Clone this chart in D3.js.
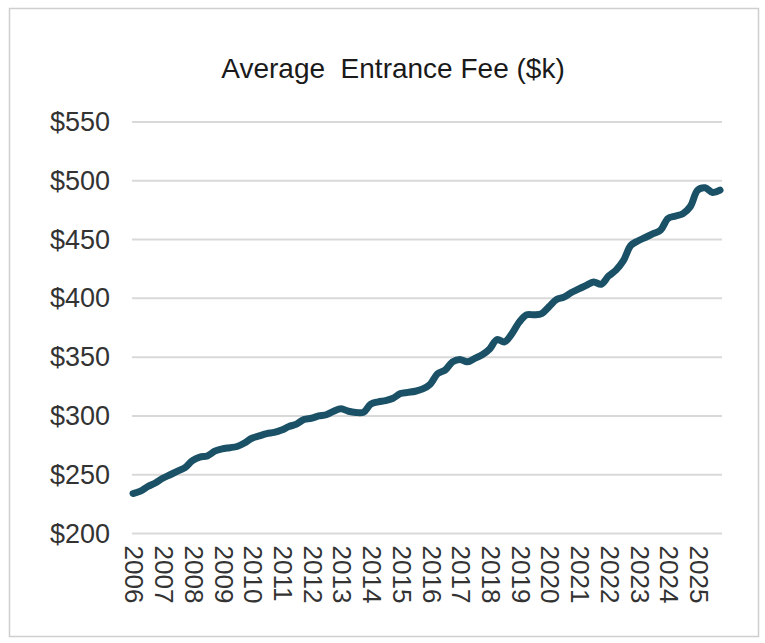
<!DOCTYPE html>
<html>
<head>
<meta charset="utf-8">
<script src="https://cdn.jsdelivr.net/npm/d3@7"></script>
<style>
  html, body { margin: 0; padding: 0; background: #ffffff; }
  svg { display: block; }
  text { font-family: "Liberation Sans", Arial, sans-serif; }
</style>
</head>
<body>
<svg id="chart" width="765" height="643"></svg>
<script>
// Average entrance fee ($k), quarterly, 2006 Q1 – 2025 Q4
const years = d3.range(2006, 2026);
const quarterlyFees = [
  234, 236, 240, 243,   // 2006
  247, 250, 253, 256,   // 2007
  262, 265, 266, 270,   // 2008
  272, 273, 274, 277,   // 2009
  281, 283, 285, 286,   // 2010
  288, 291, 293, 297,   // 2011
  298, 300, 301, 304,   // 2012
  306, 304, 303, 303,   // 2013
  310, 312, 313, 315,   // 2014
  319, 320, 321, 323,   // 2015
  327, 336, 339, 346,   // 2016
  348, 346, 349, 352,   // 2017
  357, 365, 363, 370,   // 2018
  380, 386, 386, 387,   // 2019
  393, 399, 401, 405,   // 2020
  408, 411, 414, 412,   // 2021
  419, 424, 432, 445,   // 2022
  449, 452, 455, 458,   // 2023
  468, 470, 472, 478,   // 2024
  492, 494, 490, 492    // 2025
];
const yTicks = [200, 250, 300, 350, 400, 450, 500, 550];
const title = "Average  Entrance Fee ($k)";

const series = quarterlyFees.map((v, i) => ({ t: 2006 + i / 4, v }));

const svg = d3.select("#chart");

// outer chart frame
svg.append("rect")
  .attr("x", 9.5).attr("y", 8.5)
  .attr("width", 749).attr("height", 628)
  .attr("fill", "#ffffff")
  .attr("stroke", "#cfcfcf")
  .attr("stroke-width", 1.5);

const plot = { left: 132, right: 722, top: 122, bottom: 533.5 };

const x = d3.scaleLinear()
  .domain([2006, 2025.75])
  .range([133, 720]);

const y = d3.scaleLinear()
  .domain([200, 550])
  .range([plot.bottom, plot.top]);

// title
svg.append("text")
  .attr("x", 393)
  .attr("y", 78)
  .attr("text-anchor", "middle")
  .attr("font-size", 28)
  .attr("fill", "#1a1a1a")
  .style("white-space", "pre")
  .text(title);

// horizontal gridlines
svg.append("g")
  .selectAll("line")
  .data(yTicks)
  .join("line")
  .attr("x1", plot.left).attr("x2", plot.right)
  .attr("y1", d => y(d)).attr("y2", d => y(d))
  .attr("stroke", "#d9d9d9")
  .attr("stroke-width", 2);

// y axis labels
const yAxis = d3.axisLeft(y)
  .tickValues(yTicks)
  .tickSize(0)
  .tickPadding(0)
  .tickFormat(d => "$" + d);

svg.append("g")
  .attr("transform", "translate(110,0)")
  .call(yAxis)
  .call(g => g.select(".domain").remove())
  .call(g => g.selectAll("text")
    .attr("font-size", 27)
    .attr("font-family", "Liberation Sans, Arial, sans-serif")
    .attr("fill", "#333333"));

// x axis labels (rotated years)
const xAxis = d3.axisBottom(x)
  .tickValues(years)
  .tickSize(0)
  .tickPadding(0)
  .tickFormat(d3.format("d"));

svg.append("g")
  .attr("transform", `translate(1,${plot.bottom + 12})`)
  .call(xAxis)
  .call(g => g.select(".domain").remove())
  .call(g => g.selectAll("text")
    .attr("font-size", 26)
    .attr("font-family", "Liberation Sans, Arial, sans-serif")
    .attr("fill", "#333333")
    .attr("text-anchor", "start")
    .attr("transform", "rotate(90)")
    .attr("x", 0)
    .attr("y", 0)
    .attr("dy", "0.35em"));

// fee line
const line = d3.line()
  .x(d => x(d.t))
  .y(d => y(d.v))
  .curve(d3.curveCatmullRom.alpha(0.5));

svg.append("path")
  .datum(series)
  .attr("d", line)
  .attr("fill", "none")
  .attr("stroke", "#1a5166")
  .attr("stroke-width", 7)
  .attr("stroke-linejoin", "round")
  .attr("stroke-linecap", "round");
</script>
</body>
</html>
